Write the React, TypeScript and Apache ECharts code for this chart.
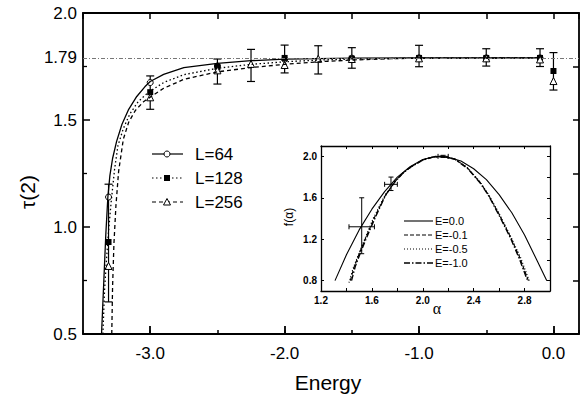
import React, { useEffect, useRef } from 'react';
import * as echarts from 'echarts';

// ---- Main plot data ----
const xLabelValues = [-3, -2, -1, 0];
const yLabelValues = [0.5, 1.0, 1.5, 1.79, 2.0];
const refLevel = 1.79;

const curve64X = [-3.362, -3.345, -3.33, -3.315, -3.30, -3.28, -3.25, -3.21, -3.16, -3.10, -3.04, -3.0, -2.9, -2.75, -2.5, -2.25, -2.0, -1.5, -1.0, -0.1];
const curve64Y = [0.50, 0.75, 0.97, 1.14, 1.24, 1.32, 1.40, 1.48, 1.55, 1.61, 1.655, 1.68, 1.713, 1.745, 1.765, 1.777, 1.784, 1.789, 1.79, 1.79];

const curve128X = [-3.352, -3.34, -3.325, -3.31, -3.29, -3.265, -3.24, -3.20, -3.15, -3.09, -3.04, -3.0, -2.9, -2.75, -2.5, -2.25, -2.0, -1.75, -1.5, -1.0, -0.1];
const curve128Y = [0.50, 0.70, 0.85, 0.98, 1.12, 1.27, 1.38, 1.46, 1.53, 1.585, 1.615, 1.635, 1.675, 1.712, 1.742, 1.76, 1.772, 1.78, 1.785, 1.789, 1.79];

const curve256X = [-3.286, -3.28, -3.27, -3.255, -3.235, -3.20, -3.16, -3.11, -3.05, -3.0, -2.9, -2.75, -2.5, -2.25, -2.0, -1.75, -1.5, -1.25, -1.0, -0.1];
const curve256Y = [0.50, 0.72, 0.92, 1.10, 1.26, 1.41, 1.49, 1.545, 1.585, 1.607, 1.648, 1.69, 1.725, 1.745, 1.76, 1.772, 1.78, 1.786, 1.789, 1.79];

const pts64X = [-3.31, -3.0, -2.5, -2.0, -1.5, -1.0, -0.5, -0.1];
const pts64Y = [1.14, 1.675, 1.752, 1.784, 1.789, 1.79, 1.79, 1.79];
const pts128X = [-3.31, -3.0, -2.5, -2.0, -1.5, -1.0, -0.5, -0.1, 0.0];
const pts128Y = [0.93, 1.63, 1.748, 1.79, 1.787, 1.79, 1.79, 1.79, 1.729];
const pts256X = [-3.31, -3.0, -2.5, -2.25, -2.0, -1.75, -1.5, -1.0, -0.5, -0.1, 0.0];
const pts256Y = [0.818, 1.606, 1.732, 1.762, 1.757, 1.786, 1.785, 1.788, 1.788, 1.783, 1.682];

const errX = [-3.31, -3.0, -2.5, -2.25, -2.0, -1.75, -1.5, -1.0, -0.5, -0.1, 0.0];
const errLow = [0.65, 1.55, 1.668, 1.68, 1.72, 1.715, 1.742, 1.749, 1.752, 1.75, 1.64];
const errHigh = [1.20, 1.706, 1.785, 1.83, 1.85, 1.847, 1.838, 1.849, 1.833, 1.833, 1.815];

const mainLegend = ['L=64', 'L=128', 'L=256'];

// ---- Inset data ----
const insetXLabelsEvery = 0.4;
const insetYLabelValues = [0.8, 1.2, 1.6, 2.0];
const insetYTickValues = [0.8, 1.0, 1.2, 1.4, 1.6, 1.8, 2.0];

const e0A = [1.31, 1.4, 1.5, 1.6, 1.7, 1.8, 1.9, 2.0, 2.1, 2.2, 2.3, 2.4, 2.5, 2.6, 2.7, 2.8, 2.9, 2.975];
const e0F = [0.80, 1.05, 1.29, 1.49, 1.66, 1.80, 1.90, 1.97, 2.00, 1.99, 1.955, 1.88, 1.775, 1.63, 1.455, 1.24, 0.99, 0.80];

const e01A = [1.43, 1.46, 1.50, 1.55, 1.62, 1.70, 1.78, 1.85, 1.91, 2.0, 2.08, 2.15, 2.25, 2.35, 2.45, 2.52, 2.60, 2.69, 2.76, 2.83];
const e01F = [0.80, 0.93, 1.06, 1.21, 1.41, 1.61, 1.755, 1.845, 1.90, 1.965, 1.993, 2.0, 1.975, 1.89, 1.75, 1.62, 1.44, 1.22, 1.03, 0.80];

const e05A = [1.42, 1.45, 1.49, 1.54, 1.61, 1.70, 1.78, 1.85, 1.91, 2.0, 2.08, 2.15, 2.25, 2.35, 2.45, 2.52, 2.60, 2.69, 2.77, 2.84];
const e05F = [0.78, 0.91, 1.04, 1.19, 1.40, 1.62, 1.757, 1.847, 1.90, 1.966, 1.994, 2.0, 1.976, 1.892, 1.755, 1.625, 1.45, 1.23, 1.02, 0.79];

const e10A = [1.44, 1.47, 1.51, 1.56, 1.63, 1.71, 1.78, 1.85, 1.91, 2.0, 2.08, 2.15, 2.25, 2.35, 2.45, 2.52, 2.60, 2.69, 2.76, 2.82];
const e10F = [0.80, 0.94, 1.07, 1.22, 1.42, 1.63, 1.752, 1.845, 1.90, 1.965, 1.993, 2.0, 1.974, 1.886, 1.745, 1.615, 1.43, 1.21, 1.01, 0.81];

// cross error bars
const insetErrA = [1.52, 1.75, 2.16];
const insetErrF = [1.32, 1.73, 2.0];
const insetErrALow = [1.42, 1.70, 2.12];
const insetErrAHigh = [1.62, 1.80, 2.20];
const insetErrFLow = [1.06, 1.67, 1.99];
const insetErrFHigh = [1.60, 1.80, 2.01];

const insetLegend = ['E=0.0', 'E=-0.1', 'E=-0.5', 'E=-1.0'];

const FONT = '"Liberation Sans", Arial, sans-serif';
const zip = (a: number[], b: number[]) => a.map((v, i) => [v, b[i]]);

export default function App() {
  const ref = useRef<HTMLDivElement>(null);
  useEffect(() => {
    if (!ref.current) return;
    const chart = echarts.init(ref.current, undefined, { renderer: 'svg' });
    const blk = '#000';
    const axisLine = (w: number) => ({ show: true, onZero: false, lineStyle: { color: blk, width: w } });

    const mainErr = errX.map((x, i) => [x, errLow[i], errHigh[i]]);
    const insetErr = insetErrA.map((a, i) => [a, insetErrF[i], insetErrALow[i], insetErrAHigh[i], insetErrFLow[i], insetErrFHigh[i]]);

    const st = { stroke: blk, lineWidth: 1.2 };
    const ln = (x1: number, y1: number, x2: number, y2: number, s: any = st) => ({ type: 'line', shape: { x1, y1, x2, y2 }, style: s });

    const legendY = [154, 178, 202];
    const insetLegY = [221, 235, 249, 263];
    const insetDash: any[] = [null, [4, 2], [1, 2], [6, 2, 1.5, 2]];

    const graphics: any[] = [
      { type: 'text', x: 27, y: 192, rotation: Math.PI / 2, style: { text: 'τ(2)', font: `21px ${FONT}`, fill: blk, textAlign: 'center', textVerticalAlign: 'middle' } },
      { type: 'text', x: 328, y: 382, style: { text: 'Energy', font: `21px ${FONT}`, fill: blk, textAlign: 'center', textVerticalAlign: 'middle' } },
      { type: 'text', x: 289, y: 217, rotation: Math.PI / 2, style: { text: 'f(α)', font: `12px ${FONT}`, fill: blk, textAlign: 'center', textVerticalAlign: 'middle' } },
      { type: 'text', x: 437, y: 308, style: { text: 'α', font: `16px "Liberation Serif", serif`, fill: blk, textAlign: 'center', textVerticalAlign: 'middle' } },
    ];
    const mainDash: any[] = [null, [1.5, 2.5], [4, 3]];
    mainLegend.forEach((name, i) => {
      const y = legendY[i];
      graphics.push({ type: 'line', shape: { x1: 152, y1: y, x2: 183, y2: y }, style: { stroke: blk, lineWidth: 1.2, lineDash: mainDash[i] } });
      if (i === 0) graphics.push({ type: 'circle', shape: { cx: 167, cy: y, r: 3 }, style: { fill: '#fff', stroke: blk, lineWidth: 1 } });
      if (i === 1) graphics.push({ type: 'rect', shape: { x: 164, y: y - 3, width: 6, height: 6 }, style: { fill: blk } });
      if (i === 2) graphics.push({ type: 'polygon', shape: { points: [[167, y - 3.5], [170.5, y + 3], [163.5, y + 3]] }, style: { fill: '#fff', stroke: blk, lineWidth: 1 } });
      graphics.push({ type: 'text', x: 195, y, style: { text: name, font: `17px ${FONT}`, fill: blk, textVerticalAlign: 'middle' } });
    });
    insetLegend.forEach((name, i) => {
      const y = insetLegY[i];
      graphics.push({ type: 'line', shape: { x1: 404, y1: y, x2: 433, y2: y }, style: { stroke: blk, lineWidth: i === 3 ? 1.6 : 1.1, lineDash: insetDash[i] } });
      graphics.push({ type: 'text', x: 435, y, style: { text: name, font: `11px ${FONT}`, fill: blk, textVerticalAlign: 'middle' } });
    });

    const option: any = {
      animation: false,
      backgroundColor: '#fff',
      textStyle: { fontFamily: FONT },
      grid: [
        { left: 83, top: 13, right: 5, bottom: 67 },
        { left: 321, top: 146, right: 34, bottom: 110, show: true, backgroundColor: '#fff', borderWidth: 0 },
      ],
      xAxis: [
        {
          gridIndex: 0, type: 'value', position: 'bottom', min: -3.5, max: 0.19, interval: 0.5,
          axisLine: axisLine(1.8), splitLine: { show: false },
          axisTick: { inside: true, length: 4, lineStyle: { color: blk, width: 1.5 } },
          axisLabel: { customValues: xLabelValues, formatter: (v: number) => v.toFixed(1), fontSize: 17, color: blk, margin: 11, fontFamily: FONT },
        },
        {
          gridIndex: 0, type: 'value', position: 'bottom', min: -3.5, max: 0.19, interval: 0.5,
          axisLine: { show: false, onZero: false }, splitLine: { show: false },
          axisTick: { inside: true, length: 8, customValues: xLabelValues, lineStyle: { color: blk, width: 1.8 } },
          axisLabel: { show: false },
        },
        {
          gridIndex: 0, type: 'value', position: 'top', min: -3.5, max: 0.19, interval: 0.5,
          axisLine: axisLine(1.8), splitLine: { show: false },
          axisTick: { inside: true, length: 6, lineStyle: { color: blk, width: 1.5 } },
          axisLabel: { show: false },
        },
        {
          gridIndex: 1, type: 'value', position: 'bottom', min: 1.2, max: 3.0, interval: 0.2,
          axisLine: axisLine(1.3), splitLine: { show: false },
          axisTick: { inside: true, length: 3, lineStyle: { color: blk, width: 1 } },
          axisLabel: {
            formatter: (v: number) => (Math.round(v * 10) % Math.round(insetXLabelsEvery * 10) === 0 ? v.toFixed(1) : ''),
            fontSize: 10, fontWeight: 'bold', color: blk, margin: 4, fontFamily: FONT, showMaxLabel: false,
          },
        },
        {
          gridIndex: 1, type: 'value', position: 'top', min: 1.2, max: 3.0, interval: 0.2,
          axisLine: axisLine(1.3), splitLine: { show: false },
          axisTick: { inside: true, length: 3, lineStyle: { color: blk, width: 1 } },
          axisLabel: { show: false },
        },
      ],
      yAxis: [
        {
          gridIndex: 0, type: 'value', position: 'left', min: 0.5, max: 2.0, interval: 0.5,
          axisLine: axisLine(1.8), splitLine: { show: false },
          axisTick: { inside: true, length: 7, lineStyle: { color: blk, width: 1.5 } },
          minorTick: { show: true, splitNumber: 2, length: 4, lineStyle: { color: blk, width: 1.3 } },
          minorSplitLine: { show: false },
          axisLabel: { customValues: yLabelValues, formatter: (v: number) => (Math.abs(v - refLevel) < 1e-6 ? String(refLevel) : v.toFixed(1)), fontSize: 17, color: blk, margin: 6, fontFamily: FONT },
        },
        {
          gridIndex: 0, type: 'value', position: 'right', min: 0.5, max: 2.0, interval: 0.25,
          axisLine: axisLine(1.8), splitLine: { show: false },
          axisTick: { inside: true, length: 6, lineStyle: { color: blk, width: 1.5 } },
          axisLabel: { show: false },
        },
        {
          gridIndex: 1, type: 'value', position: 'left', min: 0.7, max: 2.1,
          axisLine: axisLine(1.3), splitLine: { show: false },
          axisTick: { inside: true, length: 3, customValues: insetYLabelValues, lineStyle: { color: blk, width: 1 } },
          axisLabel: { customValues: insetYLabelValues, formatter: (v: number) => v.toFixed(1), fontSize: 10, fontWeight: 'bold', color: blk, margin: 4, fontFamily: FONT },
        },
        {
          gridIndex: 1, type: 'value', position: 'right', min: 0.7, max: 2.1,
          axisLine: axisLine(1.3), splitLine: { show: false },
          axisTick: { inside: true, length: 3, customValues: insetYTickValues, lineStyle: { color: blk, width: 1 } },
          axisLabel: { show: false },
        },
      ],
      series: [
        {
          type: 'custom', xAxisIndex: 0, yAxisIndex: 0, data: mainErr,
          renderItem: (params: any, api: any) => {
            const x = api.value(0), lo = api.value(1), hi = api.value(2);
            const a = api.coord([x, hi]), b = api.coord([x, lo]);
            const w = 4;
            return {
              type: 'group', children: [
                ln(a[0], a[1], b[0], b[1]),
                ln(a[0] - w, a[1], a[0] + w, a[1]),
                ln(b[0] - w, b[1], b[0] + w, b[1]),
              ],
            };
          },
        },
        {
          type: 'line', xAxisIndex: 0, yAxisIndex: 0, data: zip(curve64X, curve64Y), showSymbol: false, symbol: 'none',
          lineStyle: { color: blk, width: 1.3 },
          markLine: { silent: true, symbol: ['none', 'none'], label: { show: false }, lineStyle: { color: '#777', width: 1, type: [4, 2, 1, 2] }, data: [{ yAxis: refLevel }] },
        },
        { type: 'line', xAxisIndex: 0, yAxisIndex: 0, data: zip(curve128X, curve128Y), showSymbol: false, symbol: 'none', lineStyle: { color: blk, width: 1.3, type: [1.5, 2.5] } },
        { type: 'line', xAxisIndex: 0, yAxisIndex: 0, data: zip(curve256X, curve256Y), showSymbol: false, symbol: 'none', lineStyle: { color: blk, width: 1.3, type: [4, 3] } },
        { type: 'scatter', xAxisIndex: 0, yAxisIndex: 0, data: zip(pts64X, pts64Y), symbol: 'circle', symbolSize: 6, itemStyle: { color: '#fff', borderColor: blk, borderWidth: 1, opacity: 1 } },
        { type: 'scatter', xAxisIndex: 0, yAxisIndex: 0, data: zip(pts128X, pts128Y), symbol: 'rect', symbolSize: 6, itemStyle: { color: blk, opacity: 1 } },
        { type: 'scatter', xAxisIndex: 0, yAxisIndex: 0, data: zip(pts256X, pts256Y), symbol: 'triangle', symbolSize: 7, itemStyle: { color: '#fff', borderColor: blk, borderWidth: 1, opacity: 1 } },
        {
          type: 'custom', xAxisIndex: 3, yAxisIndex: 2, data: insetErr,
          renderItem: (params: any, api: any) => {
            const a = api.value(0), f = api.value(1);
            const al = api.value(2), ah = api.value(3), fl = api.value(4), fh = api.value(5);
            const pl = api.coord([al, f]), ph = api.coord([ah, f]);
            const pb = api.coord([a, fl]), pt = api.coord([a, fh]);
            const s = { stroke: blk, lineWidth: 1 };
            const c = 2.5;
            return {
              type: 'group', children: [
                ln(pl[0], pl[1], ph[0], ph[1], s),
                ln(pb[0], pb[1], pt[0], pt[1], s),
                ln(pl[0], pl[1] - c, pl[0], pl[1] + c, s),
                ln(ph[0], ph[1] - c, ph[0], ph[1] + c, s),
                ln(pt[0] - c, pt[1], pt[0] + c, pt[1], s),
                ln(pb[0] - c, pb[1], pb[0] + c, pb[1], s),
              ],
            };
          },
        },
        { type: 'line', xAxisIndex: 3, yAxisIndex: 2, data: zip(e0A, e0F), showSymbol: false, symbol: 'none', lineStyle: { color: blk, width: 1.1 } },
        { type: 'line', xAxisIndex: 3, yAxisIndex: 2, data: zip(e01A, e01F), showSymbol: false, symbol: 'none', lineStyle: { color: blk, width: 1.1, type: insetDash[1] } },
        { type: 'line', xAxisIndex: 3, yAxisIndex: 2, data: zip(e05A, e05F), showSymbol: false, symbol: 'none', lineStyle: { color: blk, width: 1.1, type: insetDash[2] } },
        { type: 'line', xAxisIndex: 3, yAxisIndex: 2, data: zip(e10A, e10F), showSymbol: false, symbol: 'none', lineStyle: { color: blk, width: 1.4, type: insetDash[3] } },
      ],
      graphic: graphics,
    };
    chart.setOption(option);
    return () => chart.dispose();
  }, []);
  return <div ref={ref} style={{ position: 'fixed', left: 0, top: 0, width: 584, height: 401 }} />;
}
